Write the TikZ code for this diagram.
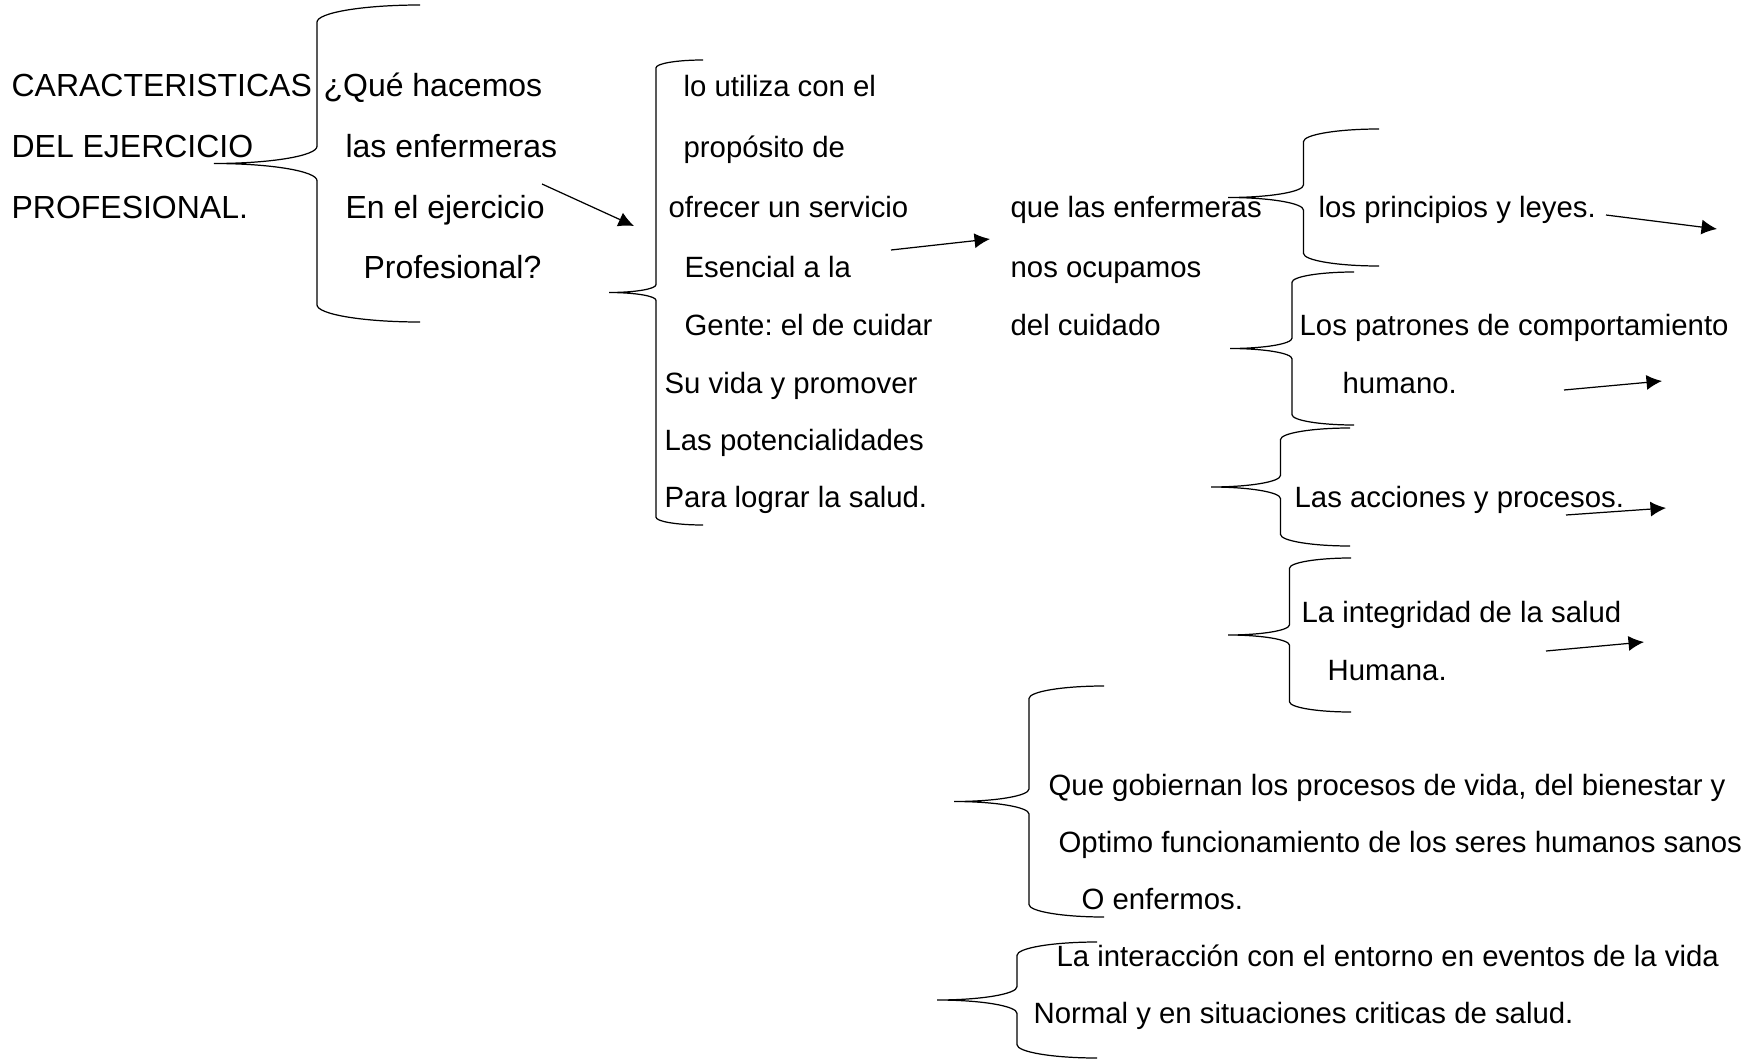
\documentclass[tikz,border=0pt]{standalone}
\usepackage{fontspec}
\setmainfont{Liberation Sans}
\usetikzlibrary{arrows.meta}
\frenchspacing

\begin{document}
\begin{tikzpicture}[x = 0.02cm, y = -0.02cm, line width = 0.7pt,
    texto/.style = {anchor = base west, inner sep = 0pt, font = \fontsize{16.7}{20}\selectfont},
    titulo/.style = {texto, font = \fontsize{18.2}{22}\selectfont},
    flecha/.style = {-{Latex[length = 0.31cm, width = 0.3cm]}},
    pics/llave/.style n args = {4}{code = {
        \pgfmathsetmacro\llxv{(#1+#2)/2}
        \pgfmathsetmacro\llym{(#3+#4)/2}
        \pgfmathsetmacro\llr{(#2-#1)/12}
        \pgfmathsetmacro\llhx{0.552*(#2-#1)/2}
        \pgfmathsetmacro\llkr{0.552*\llr}
        \draw (#2,#3) .. controls (#2-\llhx,#3) and (\llxv,#3+\llr-\llkr) .. (\llxv,#3+\llr)
            -- (\llxv,\llym-\llr) .. controls (\llxv,\llym-\llr+\llkr) and (#1+\llhx,\llym) .. (#1,\llym)
            .. controls (#1+\llhx,\llym) and (\llxv,\llym+\llr-\llkr) .. (\llxv,\llym+\llr)
            -- (\llxv,#4-\llr) .. controls (\llxv,#4-\llr+\llkr) and (#2-\llhx,#4) .. (#2,#4);
    }}]
    \useasboundingbox (0,0) rectangle (1745,1061);

    % llaves
    \pic at (0,0) {llave={214}{420}{5}{322}};
    \pic at (0,0) {llave={609}{703}{60}{525}};
    \pic at (0,0) {llave={1228}{1379}{129}{266}};
    \pic at (0,0) {llave={1230}{1354}{272}{425}};
    \pic at (0,0) {llave={1211}{1350}{428}{546}};
    \pic at (0,0) {llave={1228}{1351}{558}{712}};
    \pic at (0,0) {llave={954}{1104}{686}{917}};
    \pic at (0,0) {llave={937}{1097}{942}{1058}};

    % textos
    \node[titulo] (car1) at (11,97) {CARACTERISTICAS};
    \node[titulo] (car2) at (11,157) {DEL EJERCICIO};
    \node[titulo] (car3) at (11,218) {PROFESIONAL.};
    \node[titulo] (preg1) at (323,97) {¿Qué hacemos};
    \node[titulo] (preg2) at (345,157) {las enfermeras};
    \node[titulo] (preg3) at (345,218) {En el ejercicio};
    \node[titulo] (preg4) at (363,278) {Profesional?};

    \node[texto] (uti1) at (683,97) {lo utiliza con el};
    \node[texto] (uti2) at (683,157) {propósito de};
    \node[texto] (uti3) at (668,217) {ofrecer un servicio};
    \node[texto] (uti4) at (684,277) {Esencial a la};
    \node[texto] (uti5) at (684,335) {Gente: el de cuidar};
    \node[texto] (uti6) at (664,393) {Su vida y promover};
    \node[texto] (uti7) at (664,450) {Las potencialidades};
    \node[texto] (uti8) at (664,507) {Para lograr la salud.};

    \node[texto] (cui1) at (1010,217) {que las enfermeras};
    \node[texto] (cui2) at (1010,277) {nos ocupamos};
    \node[texto] (cui3) at (1010,335) {del cuidado};

    \node[texto] (pri) at (1318,217) {los principios y leyes.};
    \node[texto] (pat1) at (1299,335) {Los patrones de comportamiento};
    \node[texto] (pat2) at (1342,393) {humano.};
    \node[texto] (acc) at (1294,507) {Las acciones y procesos.};
    \node[texto] (int1) at (1301,622) {La integridad de la salud};
    \node[texto] (int2) at (1327,680) {Humana.};

    \node[texto] (gob1) at (1048,795) {Que gobiernan los procesos de vida, del bienestar y};
    \node[texto] (gob2) at (1058,852) {Optimo funcionamiento de los seres humanos sanos};
    \node[texto] (gob3) at (1081,909) {O enfermos.};
    \node[texto] (inter1) at (1056,966) {La interacción con el entorno en eventos de la vida};
    \node[texto] (inter2) at (1033,1023) {Normal y en situaciones criticas de salud.};

    % flechas
    \coordinate (f1a) at (542,184);
    \coordinate (f1b) at (634,226);
    \coordinate (f2a) at (891,250);
    \coordinate (f2b) at (990,239);
    \coordinate (f3a) at (1606,215);
    \coordinate (f3b) at (1717,229);
    \coordinate (f4a) at (1564,390);
    \coordinate (f4b) at (1662,381);
    \coordinate (f5a) at (1566,515);
    \coordinate (f5b) at (1666,508);
    \coordinate (f6a) at (1546,651);
    \coordinate (f6b) at (1644,642);
    \draw[flecha] (f1a) -- (f1b);
    \draw[flecha] (f2a) -- (f2b);
    \draw[flecha] (f3a) -- (f3b);
    \draw[flecha] (f4a) -- (f4b);
    \draw[flecha] (f5a) -- (f5b);
    \draw[flecha] (f6a) -- (f6b);
\end{tikzpicture}
\end{document}
